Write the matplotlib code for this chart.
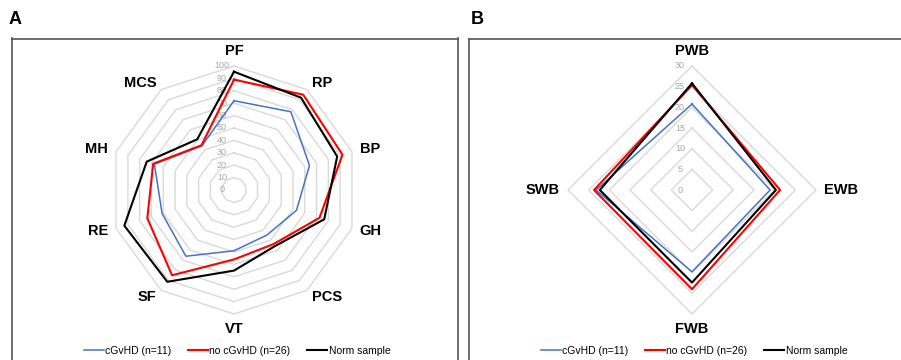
import numpy as np
import matplotlib
matplotlib.use("Agg")
import matplotlib.pyplot as plt

plt.rcParams['font.family'] = ['Liberation Sans', 'DejaVu Sans']

# panel A: SF-36 domains
cats_a = ['PF', 'RP', 'BP', 'GH', 'PCS', 'VT', 'SF', 'RE', 'MH', 'MCS']
cgvhd_a = [72, 78, 64, 53, 45, 49, 66, 61, 67.5, 44]
no_cgvhd_a = [89, 95, 92, 72.5, 54, 56, 85, 73.5, 68.5, 44.6]
norm_a = [95.4, 92, 87.5, 76.5, 56, 65, 91.5, 93, 74, 50.5]
ticks_a = [0, 10, 20, 30, 40, 50, 60, 70, 80, 90, 100]

# panel B: FACT-G subscales
cats_b = ['PWB', 'EWB', 'FWB', 'SWB']
cgvhd_b = [20.8, 18.9, 19.8, 23.2]
no_cgvhd_b = [25.4, 21.3, 24.0, 23.7]
norm_b = [25.8, 20.3, 22.4, 22.3]
ticks_b = [0, 5, 10, 15, 20, 25, 30]

names = ['cGvHD (n=11)', 'no cGvHD (n=26)', 'Norm sample']
colors = ['#4472C4', '#FF0000', '#000000']
widths = [1.1, 1.5, 1.5]

W, H = 901, 360
fig = plt.figure(figsize=(W / 100, H / 100), dpi=100)


def make_ax(left, right, top, cx, cy, scale):
    ax = fig.add_axes([left / W, 0, (right - left) / W, (H - top) / H])
    ax.set_xlim(-(cx - left) / scale, (right - cx) / scale)
    ax.set_ylim(-(H - cy) / scale, (cy - top) / scale)
    ax.set_xticks([])
    ax.set_yticks([])
    for s in ax.spines.values():
        s.set_color('#555555')
        s.set_linewidth(1.2)
    ax.spines['bottom'].set_visible(False)
    return ax


def radar(ax, cats, series, ticks):
    n = len(cats)
    ang = np.arange(n + 1) * 2 * np.pi / n
    sx, sy = np.sin(ang), np.cos(ang)
    for t in ticks[1:]:
        ax.plot(t * sx, t * sy, color='#d9d9d9', lw=1.0, zorder=1)
    for t in ticks:
        ax.annotate(str(t), (0, t), xytext=(-8.6, 0), textcoords='offset points',
                    ha='center', va='center', fontsize=6.5, color='#a6a6a6', zorder=2)
    for vals, c, lw, name in zip(series, colors, widths, names):
        v = np.append(vals, vals[0])
        ax.plot(v * sx, v * sy, color=c, lw=lw, label=name, zorder=3)
    rmax = ticks[-1]
    for i, cat in enumerate(cats):
        s, c = sx[i], sy[i]
        ha = 'left' if s > 0.1 else ('right' if s < -0.1 else 'center')
        va = 'bottom' if c > 0.9 else ('top' if c < -0.9 else 'center')
        ax.annotate(cat, (rmax * s, rmax * c), xytext=(6 * s, 6 * c),
                    textcoords='offset points', ha=ha, va=va,
                    fontsize=10.5, fontweight='bold')


ax_a = make_ax(12, 457.5, 38.5, 234, 190, 1.24)
radar(ax_a, cats_a, [cgvhd_a, no_cgvhd_a, norm_a], ticks_a)

ax_b = make_ax(469, 905, 38.5, 692, 190, 124 / 30)
radar(ax_b, cats_b, [cgvhd_b, no_cgvhd_b, norm_b], ticks_b)

for ax, cx in [(ax_a, 237), (ax_b, 694)]:
    ax.legend(loc='center', bbox_to_anchor=(cx / W, 1 - 351 / H),
              bbox_transform=fig.transFigure, ncol=3, frameon=False,
              fontsize=7.5, handlelength=1.9, handletextpad=0.15,
              columnspacing=1.6, borderaxespad=0, borderpad=0)

fig.text(9 / W, 1 - 19.5 / H, 'A', fontsize=13, fontweight='bold', va='center', ha='left')
fig.text(471 / W, 1 - 19.5 / H, 'B', fontsize=13, fontweight='bold', va='center', ha='left')

fig.savefig('out.png', dpi=100)
